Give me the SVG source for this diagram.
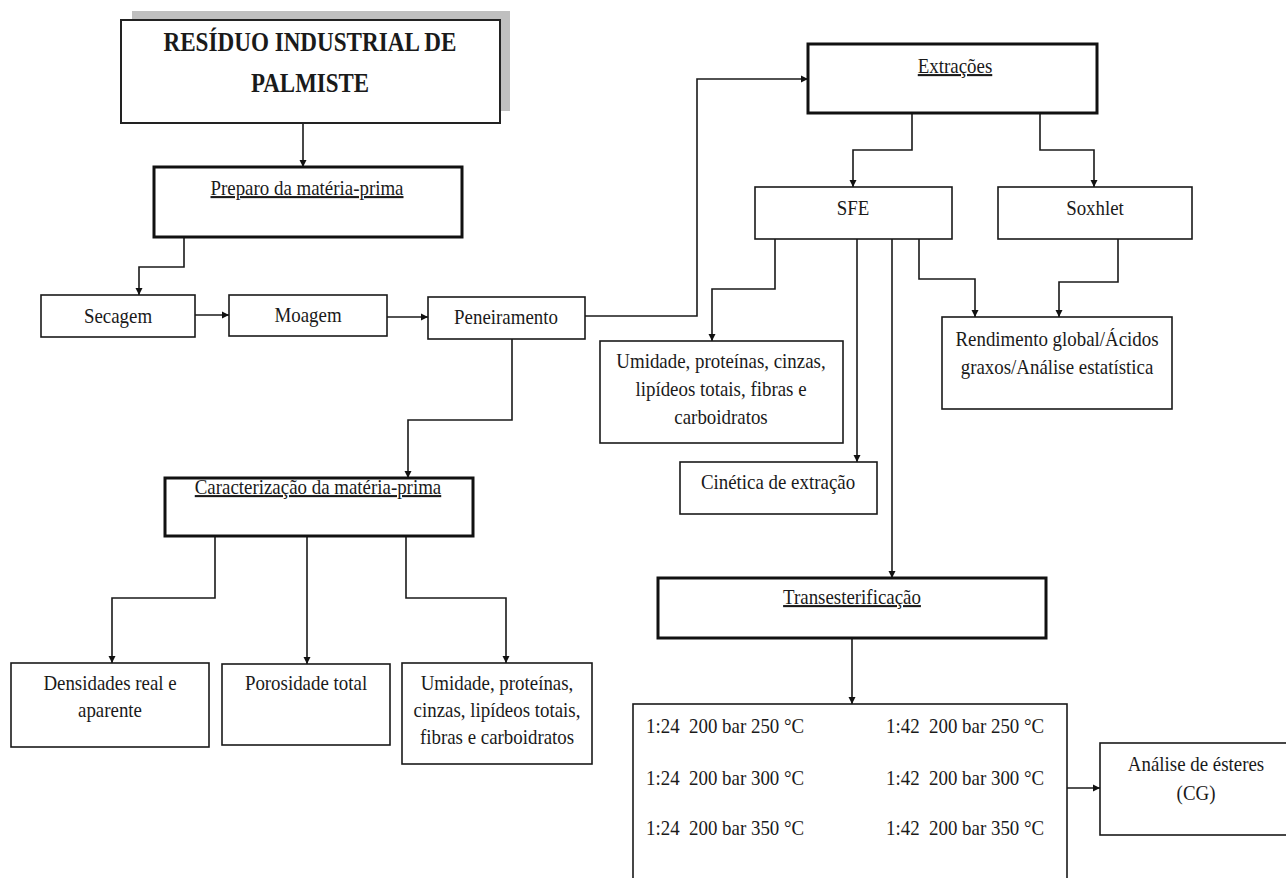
<svg xmlns="http://www.w3.org/2000/svg" width="1286" height="878" viewBox="0 0 1286 878">
<style>
  text { font-family: "Liberation Serif", "Times New Roman", serif; font-size: 21px; fill: #1a1a1a; white-space: pre; }
  .c { text-anchor: middle; }
  .u { text-decoration: underline; }
  .b { font-weight: bold; font-size: 27px; }
  .box { fill: #fff; stroke: #1a1a1a; stroke-width: 1.6; }
  .thick { fill: #fff; stroke: #111; stroke-width: 3; }
  .ln { fill: none; stroke: #1a1a1a; stroke-width: 1.6; }
</style>
<defs>
  <marker id="ah" viewBox="0 0 10 10" refX="10" refY="5" markerWidth="7" markerHeight="8" markerUnits="userSpaceOnUse" orient="auto">
    <path d="M0,0 L10,5 L0,10 z" fill="#111"/>
  </marker>
</defs>
<rect width="1286" height="878" fill="#fff"/>

<g id="connectors">
  <path class="ln" d="M303,123 V167" marker-end="url(#ah)"/>
  <path class="ln" d="M184,237 V267 H139 V295" marker-end="url(#ah)"/>
  <path class="ln" d="M195,315 H229" marker-end="url(#ah)"/>
  <path class="ln" d="M387,317 H428" marker-end="url(#ah)"/>
  <path class="ln" d="M585,316 H697 V79 H808" marker-end="url(#ah)"/>
  <path class="ln" d="M512,339 V420 H408 V478" marker-end="url(#ah)"/>
  <path class="ln" d="M912,113 V150 H853 V187" marker-end="url(#ah)"/>
  <path class="ln" d="M1040,113 V150 H1094 V187" marker-end="url(#ah)"/>
  <path class="ln" d="M775,239 V289 H712 V341" marker-end="url(#ah)"/>
  <path class="ln" d="M857,239 V462" marker-end="url(#ah)"/>
  <path class="ln" d="M892,239 V578" marker-end="url(#ah)"/>
  <path class="ln" d="M919,239 V279 H975 V317" marker-end="url(#ah)"/>
  <path class="ln" d="M1118,239 V282 H1059 V317" marker-end="url(#ah)"/>
  <path class="ln" d="M215,536 V598 H112 V663" marker-end="url(#ah)"/>
  <path class="ln" d="M307,536 V664" marker-end="url(#ah)"/>
  <path class="ln" d="M406,536 V598 H506 V663" marker-end="url(#ah)"/>
  <path class="ln" d="M852,638 V704" marker-end="url(#ah)"/>
  <path class="ln" d="M1067,788 H1100" marker-end="url(#ah)"/>
</g>

<g id="residuo">
  <rect x="132" y="11" width="378" height="100" fill="#bfbfbf"/>
  <rect x="121" y="20" width="379" height="103" fill="#fff" stroke="#222" stroke-width="2"/>
  <text class="b c" x="310" y="51" textLength="293" lengthAdjust="spacingAndGlyphs">RESÍDUO INDUSTRIAL DE</text>
  <text class="b c" x="310" y="92" textLength="118" lengthAdjust="spacingAndGlyphs">PALMISTE</text>
</g>

<g id="preparo">
  <rect class="thick" x="154" y="167" width="308" height="70"/>
  <text class="c u" transform="translate(307,195) scale(0.9,1)">Preparo da matéria-prima</text>
</g>

<g id="secagem">
  <rect class="box" x="41" y="295" width="154" height="42"/>
  <text class="c" transform="translate(118,323) scale(0.9,1)">Secagem</text>
</g>

<g id="moagem">
  <rect class="box" x="229" y="295" width="158" height="41"/>
  <text class="c" transform="translate(308,322) scale(0.9,1)">Moagem</text>
</g>

<g id="peneiramento">
  <rect class="box" x="428" y="297" width="157" height="42"/>
  <text class="c" transform="translate(506,324) scale(0.9,1)">Peneiramento</text>
</g>

<g id="extracoes">
  <rect class="thick" x="808" y="44" width="289" height="69"/>
  <text class="c u" transform="translate(955,73) scale(0.9,1)">Extrações</text>
</g>

<g id="sfe">
  <rect class="box" x="755" y="187" width="197" height="52"/>
  <text class="c" transform="translate(853,215) scale(0.9,1)">SFE</text>
</g>

<g id="soxhlet">
  <rect class="box" x="998" y="187" width="194" height="52"/>
  <text class="c" transform="translate(1095,215) scale(0.9,1)">Soxhlet</text>
</g>

<g id="umidade-sfe">
  <rect class="box" x="600" y="341" width="243" height="102"/>
  <text class="c" transform="translate(721,368) scale(0.9,1)">Umidade, proteínas, cinzas,</text>
  <text class="c" transform="translate(721,396) scale(0.9,1)">lipídeos totais, fibras e</text>
  <text class="c" transform="translate(721,424) scale(0.9,1)">carboidratos</text>
</g>

<g id="cinetica">
  <rect class="box" x="680" y="462" width="197" height="52"/>
  <text class="c" transform="translate(778,489) scale(0.9,1)">Cinética de extração</text>
</g>

<g id="rendimento">
  <rect class="box" x="942" y="317" width="230" height="92"/>
  <text class="c" transform="translate(1057,346) scale(0.9,1)">Rendimento global/Ácidos</text>
  <text class="c" transform="translate(1057,374) scale(0.9,1)">graxos/Análise estatística</text>
</g>

<g id="caracterizacao">
  <rect class="thick" x="165" y="478" width="308" height="58"/>
  <text class="c u" transform="translate(318,494) scale(0.9,1)">Caracterização da matéria-prima</text>
</g>

<g id="densidades">
  <rect class="box" x="11" y="663" width="198" height="84"/>
  <text class="c" transform="translate(110,690) scale(0.9,1)">Densidades real e</text>
  <text class="c" transform="translate(110,717) scale(0.9,1)">aparente</text>
</g>

<g id="porosidade">
  <rect class="box" x="222" y="664" width="168" height="81"/>
  <text class="c" transform="translate(306,690) scale(0.9,1)">Porosidade total</text>
</g>

<g id="umidade-carac">
  <rect class="box" x="402" y="663" width="190" height="101"/>
  <text class="c" transform="translate(497,690) scale(0.9,1)">Umidade, proteínas,</text>
  <text class="c" transform="translate(497,717) scale(0.9,1)">cinzas, lipídeos totais,</text>
  <text class="c" transform="translate(497,744) scale(0.9,1)">fibras e carboidratos</text>
</g>

<g id="transesterificacao">
  <rect class="thick" x="658" y="578" width="388" height="60"/>
  <text class="c u" transform="translate(852,604) scale(0.9,1)">Transesterificação</text>
</g>

<g id="condicoes">
  <rect class="box" x="633" y="704" width="434" height="185"/>
  <text transform="translate(646,733) scale(0.9,1)">1:24  200 bar 250 °C</text>
  <text transform="translate(646,785) scale(0.9,1)">1:24  200 bar 300 °C</text>
  <text transform="translate(646,835) scale(0.9,1)">1:24  200 bar 350 °C</text>
  <text transform="translate(886,733) scale(0.9,1)">1:42  200 bar 250 °C</text>
  <text transform="translate(886,785) scale(0.9,1)">1:42  200 bar 300 °C</text>
  <text transform="translate(886,835) scale(0.9,1)">1:42  200 bar 350 °C</text>
</g>

<g id="analise">
  <rect class="box" x="1100" y="743" width="195" height="92"/>
  <text class="c" transform="translate(1196,771) scale(0.9,1)">Análise de ésteres</text>
  <text class="c" transform="translate(1196,800) scale(0.9,1)">(CG)</text>
</g>
</svg>
